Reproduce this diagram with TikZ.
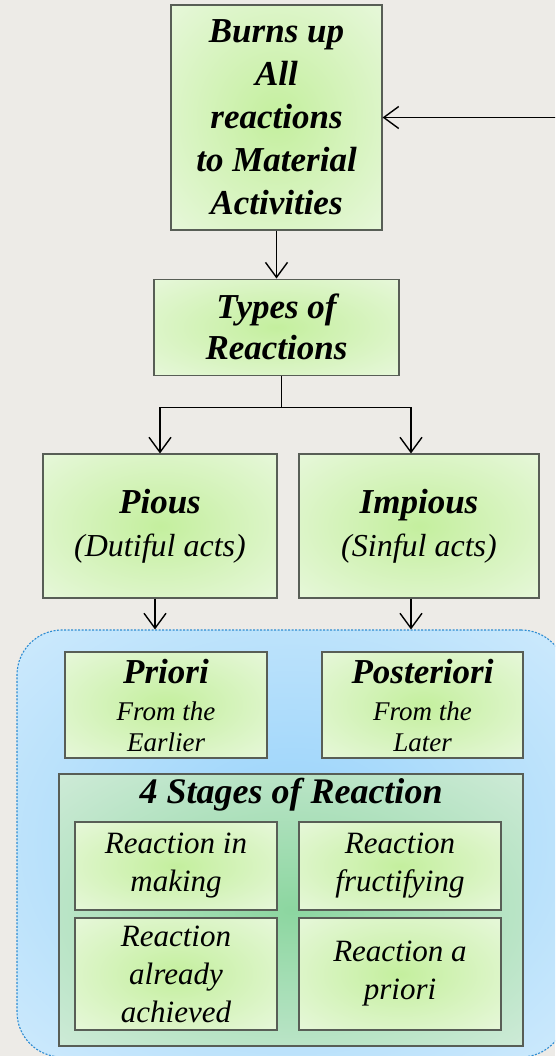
\documentclass[tikz,border=0pt]{standalone}
\usepackage{fontspec}
\setmainfont{Liberation Serif}
\usetikzlibrary{arrows.meta,positioning}

\definecolor{paper}{RGB}{237,235,231}
\definecolor{edge}{RGB}{88,94,86}
\definecolor{leafmid}{RGB}{196,239,158}
\definecolor{leafrim}{RGB}{233,248,222}
\definecolor{skymid}{RGB}{150,210,250}
\definecolor{skyrim}{RGB}{206,234,252}
\definecolor{skyline}{RGB}{45,140,210}
\definecolor{poolmid}{RGB}{140,214,160}
\definecolor{poolrim}{RGB}{214,237,222}

\pgfdeclareradialshading{leafglow}{\pgfpoint{0bp}{0bp}}{color(0bp)=(leafmid); color(38bp)=(leafrim); color(50bp)=(leafrim)}
\pgfdeclareradialshading{skyglow}{\pgfpoint{0bp}{0bp}}{color(0bp)=(skymid); color(36bp)=(skyrim); color(50bp)=(skyrim)}
\pgfdeclareradialshading{poolglow}{\pgfpoint{0bp}{0bp}}{color(0bp)=(poolmid); color(40bp)=(poolrim); color(50bp)=(poolrim)}

\newcommand{\smallline}{\fontsize{27}{31}\selectfont\mdseries}
\newcommand{\midline}{\fontsize{32}{38}\selectfont\mdseries}

\begin{document}
\begin{tikzpicture}[x=1pt,y=-1pt,
  box/.style={draw=edge,line width=1.1pt,shade,shading=leafglow,align=center,inner sep=0pt},
  big/.style={font=\fontsize{35}{43}\selectfont\bfseries\itshape},
  stagebox/.style={box,font=\fontsize{31}{38}\selectfont\itshape,minimum width=202pt},
  region/.style={draw=skyline,line width=1.1pt,dash pattern=on 2pt off 1.5pt,rounded corners=45pt,shade,shading=skyglow},
  arr/.style={-{Straight Barb[length=15pt,width=22pt]},line width=1.4pt}]

\useasboundingbox (0,0) rectangle (555,1056);
\clip (0,0) rectangle (555,1056);
\fill[paper] (0,0) rectangle (555,1056);

% upper chain
\node[box,big,minimum width=211pt,minimum height=225pt] (burns) at (276.5,117.5)
  {Burns up\\All\\reactions\\to Material\\Activities};
\node[box,big,minimum width=245pt,minimum height=96pt,below=48pt of burns] (types)
  {Types of\\[-2pt]Reactions};
\node[box,big,minimum width=234pt,minimum height=144pt] (pious) at (160,526)
  {Pious\\\midline(Dutiful acts)};
\node[box,big,minimum width=240pt,minimum height=144pt] (impious) at (419,526)
  {Impious\\\midline(Sinful acts)};

% blue field
\node[region,minimum width=549pt,minimum height=427pt] (field) at (291.5,843.5) {};
\node[box,big,minimum width=202pt,minimum height=106pt] (priori) at (166,705)
  {Priori\\[-6pt]\smallline From the\\[-12pt]\smallline Earlier};
\node[box,big,minimum width=201pt,minimum height=106pt] (posteriori) at (422.5,705)
  {Posteriori\\[-6pt]\smallline From the\\[-12pt]\smallline Later};
\node[draw=edge,line width=1.1pt,shade,shading=poolglow,minimum width=464pt,minimum height=272pt] (stages) at (291,910) {};
\node[big,font=\fontsize{36}{43}\selectfont\bfseries\itshape,anchor=base] (stagestitle) at (291,803) {4 Stages of Reaction};
\node[stagebox,minimum height=88pt] (making) at (176,866) {Reaction in\\making};
\node[stagebox,minimum height=88pt] (fructify) at (400,866) {Reaction\\fructifying};
\node[stagebox,minimum height=112pt] (achieved) at (176,974) {Reaction\\already\\achieved};
\node[stagebox,minimum height=112pt] (apriori) at (400,974) {Reaction a\\priori};

% connectors
\coordinate (feed) at (560,117.5);
\draw[arr] (feed) -- (burns.east);
\draw[arr] (burns.south) -- (types.north);
\draw[line width=1.4pt] ([xshift=5pt]types.south) -- ++(0,32) coordinate (split);
\draw[arr] (split) -| (pious.north);
\draw[arr] (split) -| ([xshift=-8pt]impious.north);
\draw[arr] ([xshift=-5pt]pious.south) -- ([xshift=-5pt]pious.south |- field.north);
\draw[arr] ([xshift=-8pt]impious.south) -- ([xshift=-8pt]impious.south |- field.north);
\end{tikzpicture}
\end{document}
